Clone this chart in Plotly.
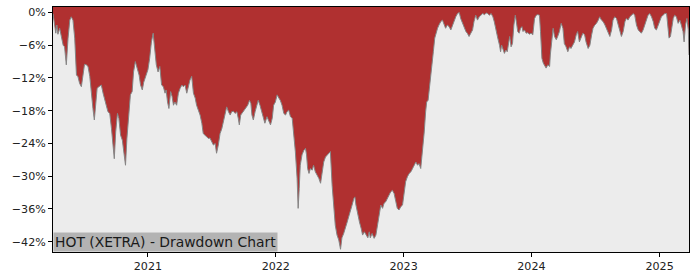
import pandas as pd
import plotly.graph_objects as go

start_date = "2020-04-05"

days_since_start = [
    0, 8, 11, 14, 19, 24, 29, 33, 38, 43, 48, 52, 57, 62, 67, 71, 76, 81, 86, 90,
    95, 100, 105, 109, 114, 118, 122, 126, 131, 138, 143, 148, 152, 157, 162, 167, 171, 175, 179, 184,
    188, 193, 198, 202, 207, 211, 217, 221, 226, 230, 235, 240, 246, 250, 255, 259, 265, 271, 276, 281,
    286, 290, 295, 300, 305,
    310, 315, 320, 323, 327, 331, 336, 340, 344, 348, 353, 358, 363, 368, 372, 377, 382, 387, 391, 396,
    401, 406, 410, 415, 420, 425, 429, 434, 439, 444, 448, 453, 458, 463, 467, 472, 477, 482, 486, 491,
    496, 501, 506, 510, 515, 520, 525, 529, 532, 536, 542, 546, 551, 556, 561, 565, 568, 572, 577, 582,
    586, 591, 596, 601, 605,
    611, 616, 621, 626, 630, 635, 640, 645, 649, 654, 659, 664, 668, 673, 678, 683, 687, 692, 697, 700,
    703, 706, 711, 716, 721, 724, 727, 731, 735, 740, 744, 749, 754, 759, 764, 768, 773, 778, 783, 787,
    792, 797, 802, 806, 811, 816, 821, 825, 830, 835, 840, 844, 849, 854, 859, 862, 865, 870, 875, 880,
    884, 889, 894, 899, 903, 906, 911, 917,
    922, 926, 931, 936, 941, 945, 950, 955, 960, 964, 969, 974, 979, 983, 988, 993, 998, 1002, 1007, 1012,
    1017, 1022, 1026, 1031, 1036, 1041, 1045, 1050, 1055, 1060, 1064, 1067, 1071, 1074, 1079, 1083, 1086, 1090, 1094, 1098,
    1102, 1107, 1112, 1117, 1121, 1126, 1131, 1136, 1141, 1145, 1150, 1155, 1160, 1164, 1169, 1174, 1179, 1183, 1188, 1193,
    1198, 1202, 1207, 1212, 1217,
    1222, 1227, 1232, 1237, 1241, 1246, 1251, 1256, 1260, 1265, 1270, 1275, 1278, 1281, 1285, 1289, 1293, 1297, 1300, 1304,
    1308, 1312, 1316, 1320, 1323, 1327, 1331, 1335, 1339, 1342, 1346, 1351, 1356, 1360, 1365, 1370, 1375, 1380, 1384, 1389,
    1392, 1396, 1400, 1403, 1408, 1413, 1418, 1420, 1424, 1428, 1432, 1437, 1441, 1446, 1451, 1456, 1460, 1465, 1470, 1475,
    1479, 1484, 1489, 1494, 1498, 1503, 1508, 1513, 1518, 1522,
    1528, 1533, 1538, 1542, 1547, 1552, 1557, 1561, 1566, 1571, 1576, 1580, 1585, 1590, 1595, 1599, 1604, 1609, 1614, 1618,
    1623, 1628, 1633, 1637, 1642, 1647, 1652, 1657, 1661, 1666, 1671, 1676, 1680, 1685, 1690, 1695, 1699, 1704, 1709, 1714,
    1718, 1723, 1728, 1733, 1737, 1742, 1747, 1752, 1756, 1759, 1763, 1766, 1771, 1775, 1780, 1785, 1790, 1794, 1799, 1802,
    1806, 1810, 1814, 1816,
]

drawdown_pct = [
    -0.2, -3.8, -2.3, -4.0, -2.9, -4.7, -6.0, -6.3, -9.6, -4.7, -1.4, -0.8, -1.4, -4.7, -11.5, -11.7, -13.0, -13.6, -10.9, -9.5,
    -9.6, -9.9, -11.7, -15.1, -17.6, -19.7, -16.4, -13.9, -13.6, -13.3, -14.8, -16.4, -17.0, -18.2, -18.5, -21.3, -24.9, -26.8, -21.9, -18.5,
    -19.4, -22.5, -23.4, -25.5, -28.0, -23.1, -18.2, -15.1, -14.5, -10.9, -9.0, -10.1, -11.5, -13.3, -14.2, -12.8, -11.5, -10.5, -8.4, -5.4,
    -3.8, -6.6, -9.6, -10.9, -9.9,
    -13.3, -13.6, -14.8, -14.2, -16.4, -17.6, -14.5, -15.4, -17.0, -16.4, -17.0, -14.8, -13.9, -13.3, -13.6, -13.3, -14.8, -13.3, -12.4, -11.7,
    -14.8, -15.7, -17.0, -17.9, -18.8, -20.3, -22.2, -22.5, -22.8, -23.1, -23.0, -23.7, -24.3, -24.0, -25.8, -24.3, -22.2, -21.3, -20.0, -18.8,
    -17.3, -18.2, -18.8, -18.2, -18.1, -18.5, -18.2, -19.4, -20.6, -18.8, -18.2, -17.9, -17.3, -17.0, -16.1, -16.7, -18.8, -19.7, -18.2, -17.0,
    -16.1, -17.0, -18.2, -19.7, -20.3,
    -19.1, -20.0, -20.6, -19.4, -17.0, -16.4, -15.1, -15.7, -16.1, -17.0, -18.5, -18.8, -18.2, -17.9, -19.1, -19.4, -21.9, -25.5, -30.4, -35.9,
    -32.3, -28.0, -26.1, -25.3, -24.9, -26.1, -28.6, -29.5, -28.6, -28.9, -28.0, -29.2, -29.8, -30.4, -31.3, -29.2, -27.4, -26.5, -26.1, -25.8,
    -25.5, -31.7, -36.6, -39.0, -40.8, -41.7, -43.4, -41.3, -40.5, -39.6, -38.4, -37.5, -36.6, -35.3, -34.1, -33.8, -35.3, -37.2, -38.4, -39.6,
    -40.8, -40.2, -40.8, -41.3, -40.2, -41.3, -40.5, -41.4,
    -40.8, -39.0, -37.2, -35.3, -35.9, -35.0, -34.7, -34.1, -33.5, -32.9, -32.6, -33.2, -34.7, -35.9, -36.2, -35.6, -35.3, -32.9, -31.0, -30.1,
    -29.5, -29.2, -28.6, -28.0, -27.4, -28.0, -27.7, -28.6, -25.5, -21.9, -18.2, -16.4, -16.1, -14.5, -11.5, -9.6, -7.2, -4.7, -3.5, -2.9,
    -2.3, -1.7, -1.4, -2.3, -2.9, -2.3, -2.6, -3.2, -2.3, -1.7, -0.8, -0.2, 0.0, -1.1, -2.0, -2.9, -3.5, -3.8, -4.4, -3.8,
    -3.2, -1.7, -0.5, -1.4, -0.8,
    -0.5, -0.2, -0.4, -0.1, -0.2, -0.5, -0.2, -0.8, -1.7, -3.5, -4.7, -6.0, -7.2, -6.0, -6.6, -7.5, -6.9, -7.2, -6.0, -4.4,
    -6.3, -5.7, -2.3, -0.5, -1.7, -3.5, -3.8, -2.9, -2.6, -3.5, -3.2, -3.8, -3.7, -4.0, -3.8, -4.1, -1.1, -0.5, -0.4, -0.5,
    -3.5, -8.4, -9.3, -9.6, -10.2, -9.6, -9.9, -7.8, -4.7, -2.9, -4.4, -5.0, -4.4, -3.5, -2.0, -2.9, -5.7, -6.3, -7.2, -6.3,
    -6.6, -6.0, -5.4, -4.1, -3.5, -5.4, -4.7, -3.8, -4.1, -5.4,
    -6.6, -6.0, -4.1, -2.9, -2.3, -2.0, -1.4, -0.8, -1.4, -1.7, -2.3, -2.9, -3.8, -4.4, -3.2, -1.4, -0.8, -1.1, -2.3, -3.5,
    -4.4, -3.5, -1.7, -1.1, -1.4, -0.8, -0.5, -0.2, -0.5, -2.3, -3.2, -3.5, -3.8, -3.2, -2.3, -1.1, -0.5, -0.2, -0.8, -1.7,
    -2.9, -3.2, -2.3, -1.4, -0.8, -0.5, -0.2, -0.2, -2.3, -4.7, -4.4, -2.9, -1.1, -0.5, -0.8, -2.0, -1.4, -2.3, -3.5, -5.4,
    -2.3, -1.1, -3.2, -7.8,
]

y_tick_values = [0, -6, -12, -18, -24, -30, -36, -42]
y_tick_labels = ["0%", "\u22126%", "\u221212%", "\u221218%", "\u221224%", "\u221230%", "\u221236%", "\u221242%"]
x_tick_values = ["2021-01-01", "2022-01-01", "2023-01-01", "2024-01-01", "2025-01-01"]
x_tick_labels = ["2021", "2022", "2023", "2024", "2025"]
chart_label = "HOT (XETRA) - Drawdown Chart"

y_axis_range = [-43.9, 1.0]

dates = pd.Timestamp(start_date) + pd.to_timedelta(days_since_start, unit="D")

fig = go.Figure()
# upper edge of the plotting area: red area spans from the drawdown curve up to the top frame
fig.add_trace(go.Scatter(
    x=dates, y=[y_axis_range[1]] * len(dates), mode="lines",
    line=dict(width=0, color="rgba(0,0,0,0)"),
    hoverinfo="skip", showlegend=False,
))
fig.add_trace(go.Scatter(
    x=dates, y=drawdown_pct, mode="lines",
    line=dict(color="#858585", width=1),
    fill="tonexty", fillcolor="#b03030",
    hoverinfo="skip", showlegend=False,
))

fig.update_layout(
    width=700, height=280,
    margin=dict(l=53, r=11, t=7, b=28),
    paper_bgcolor="white", plot_bgcolor="#ececec",
    font=dict(family="DejaVu Sans", size=11, color="#222222"),
    xaxis=dict(
        range=[dates[0], dates[-1]],
        tickvals=x_tick_values, ticktext=x_tick_labels,
        ticks="outside", ticklen=4, tickcolor="black",
        showline=True, linecolor="black", linewidth=1, mirror=True,
        showgrid=False, zeroline=False,
        tickfont=dict(size=11.1),
    ),
    yaxis=dict(
        range=y_axis_range,
        tickvals=y_tick_values, ticktext=y_tick_labels,
        ticks="outside", ticklen=4, tickcolor="black",
        showline=True, linecolor="black", linewidth=1, mirror=True,
        showgrid=False, zeroline=False,
        tickfont=dict(size=11.1),
    ),
    annotations=[dict(
        text=chart_label, xref="paper", yref="paper", x=0, y=0,
        xanchor="left", yanchor="bottom", showarrow=False,
        bgcolor="#b3b3b3", borderpad=1,
        font=dict(family="DejaVu Sans", size=13.9, color="#1a1a1a"),
    )],
)

fig.write_html("out.html")
